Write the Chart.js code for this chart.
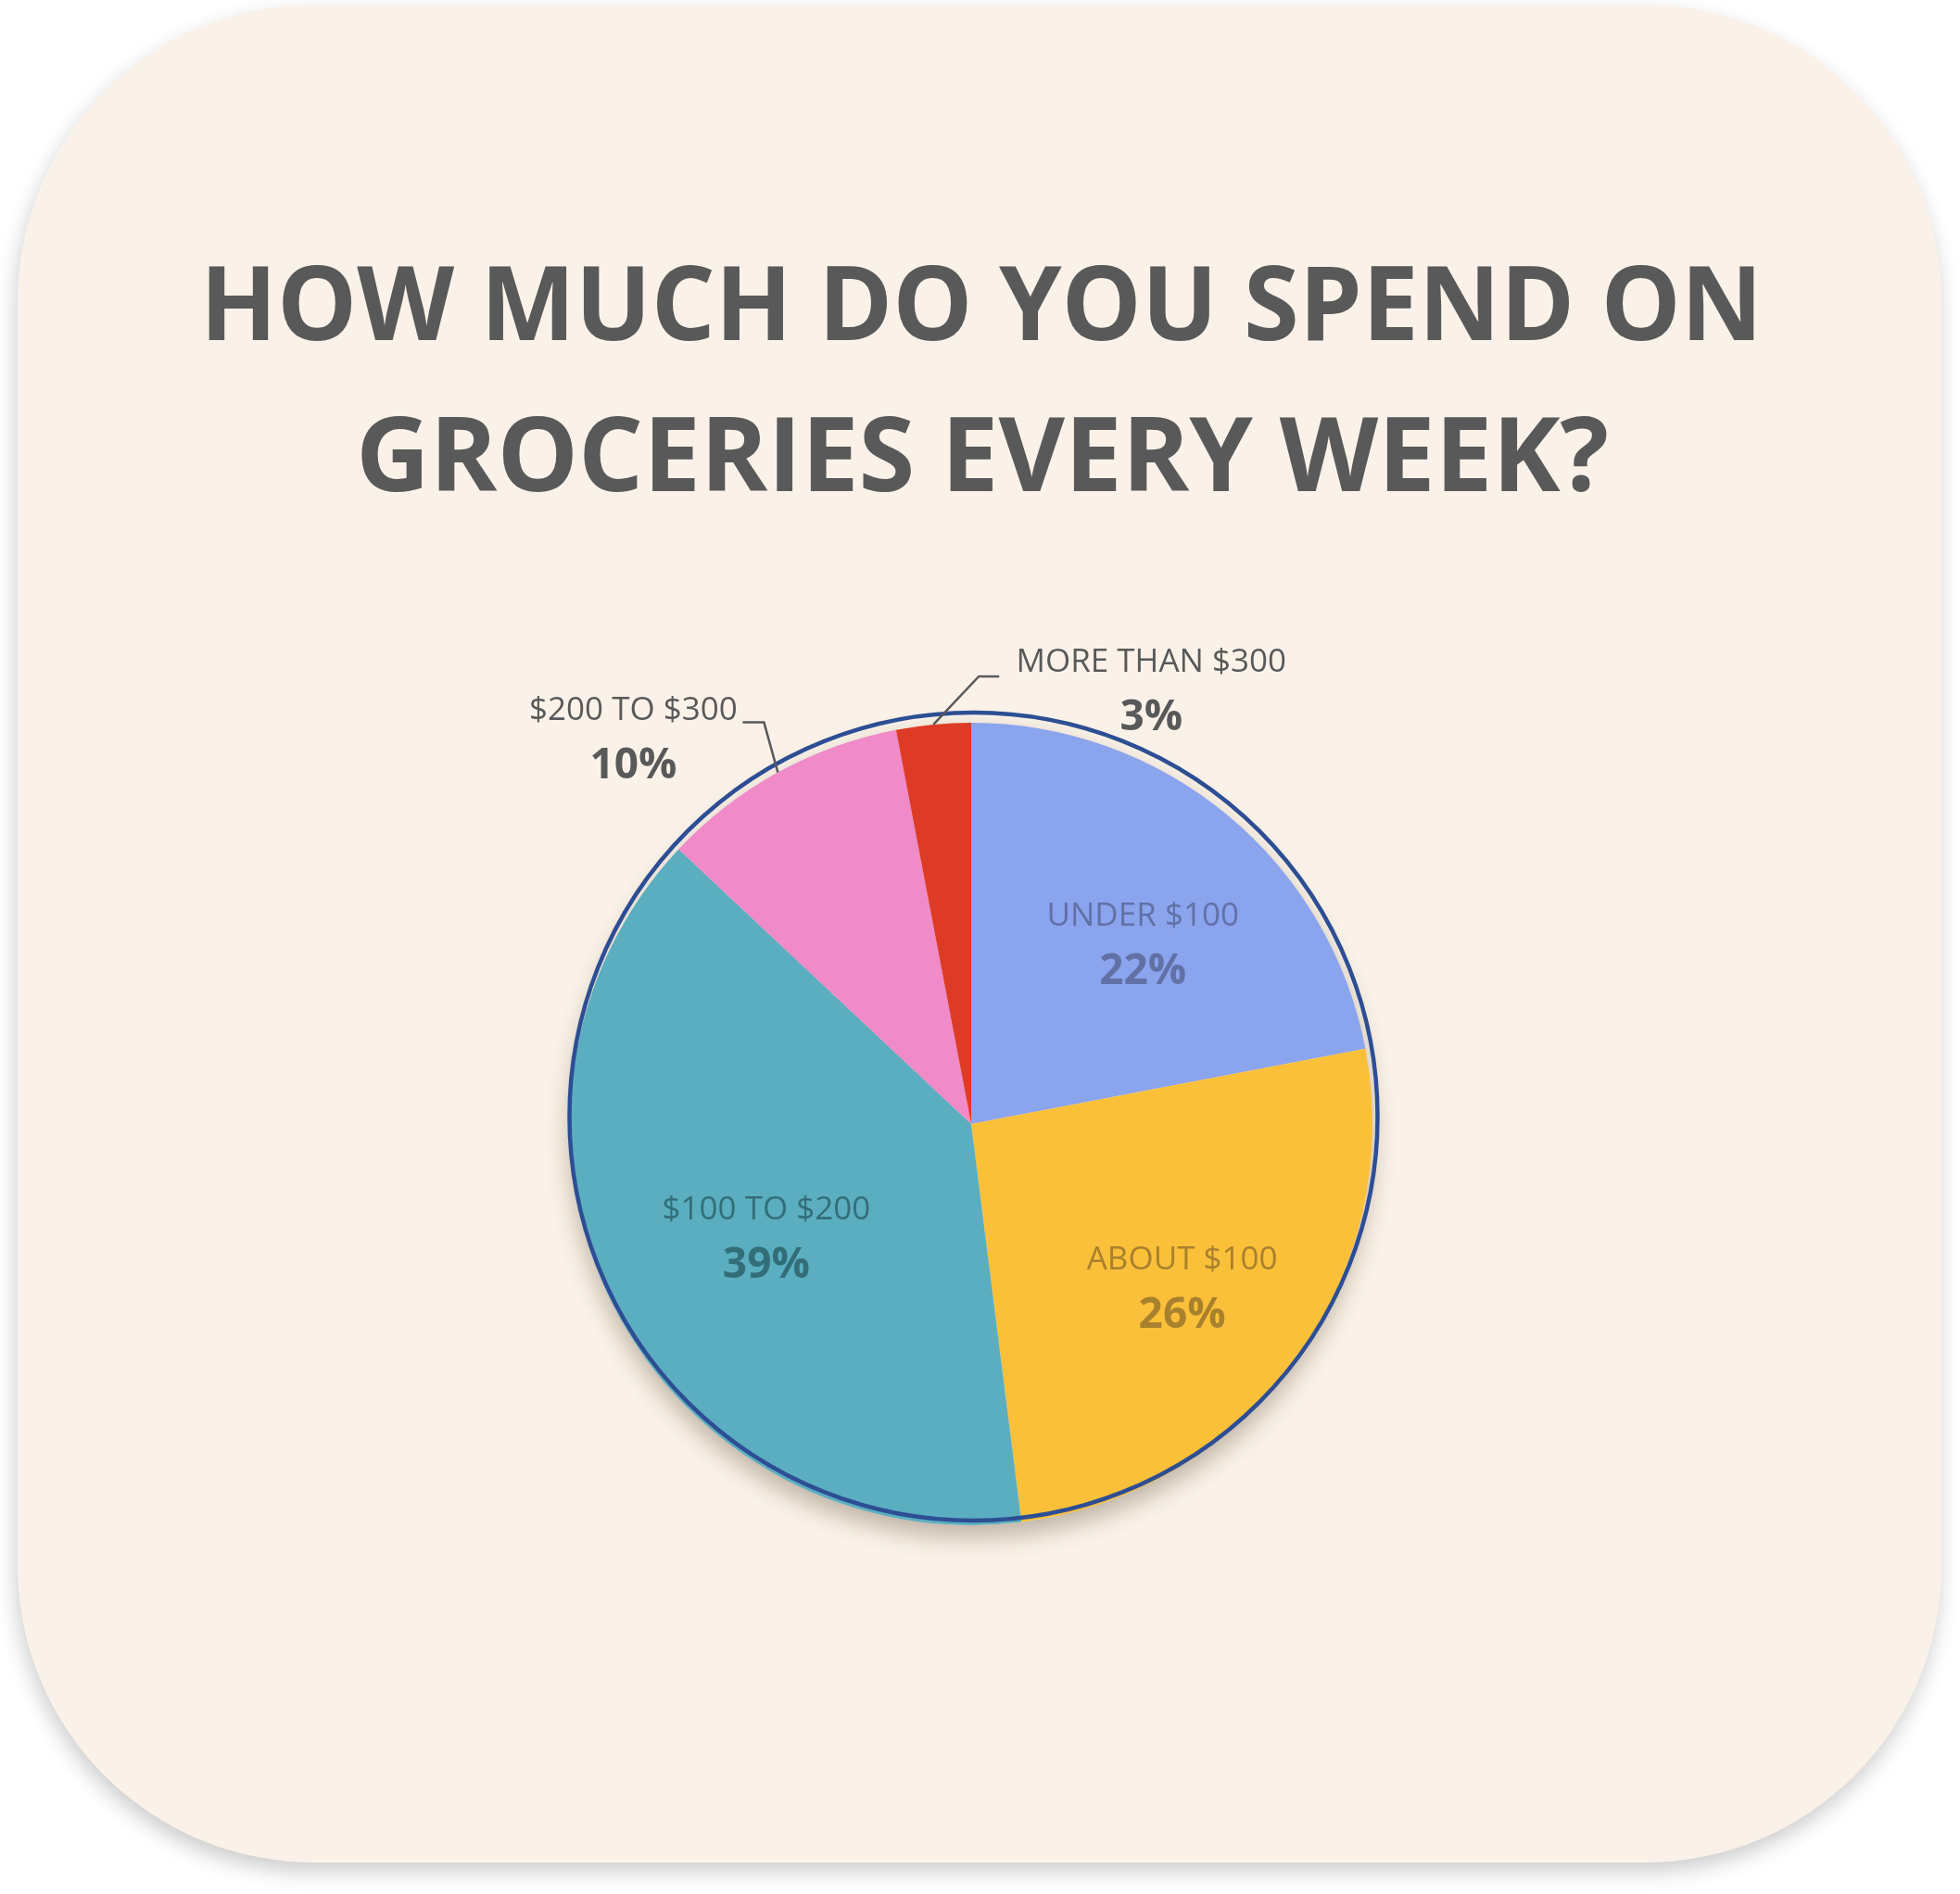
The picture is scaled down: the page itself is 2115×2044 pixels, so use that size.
<!DOCTYPE html>
<html><head><meta charset="utf-8">
<script src="https://cdn.jsdelivr.net/npm/chart.js@4"></script>
<style>html,body{margin:0;padding:0;background:#fff;overflow:hidden}</style>
</head><body>
<canvas id="c" width="2115" height="2044"></canvas>
<script>
// ---- data ----
const titleLines = ['HOW MUCH DO YOU SPEND ON', 'GROCERIES EVERY WEEK?'];
const categories = ['UNDER $100', 'ABOUT $100', '$100 TO $200', '$200 TO $300', 'MORE THAN $300'];
const shares = [22, 26, 39, 10, 3];
const percentLabels = ['22%', '26%', '39%', '10%', '3%'];

// ---- style ----
const sliceColors = ['#8AA4EE', '#FBC03A', '#5BAEC0', '#F08AC9', '#DE3B26'];
const insideTextColors = ['#6171A6', '#A8812E', '#336E78', null, null];
const insideRadius = [0.626, 0.66, 0.58, null, null];
const insideAngleShift = [3.5, 1.2, -1.3, null, null]; // degrees
const outsideLabels = {
  3: { elbow: [-15, -54], run: -23, text: [-118, -17] },
  4: { elbow: [49, -52], run: 22, text: [164, -19] }
};
const TEXT_NUDGE = 4;
const GREY = '#595959';
const FONT = '"Open Sans", "Noto Sans", sans-serif';

function roundRect(ctx, x, y, w, h, r) {
  ctx.beginPath();
  ctx.moveTo(x + r, y);
  ctx.lineTo(x + w - r, y);
  ctx.arcTo(x + w, y, x + w, y + r, r);
  ctx.lineTo(x + w, y + h - r);
  ctx.arcTo(x + w, y + h, x + w - r, y + h, r);
  ctx.lineTo(x + r, y + h);
  ctx.arcTo(x, y + h, x, y + h - r, r);
  ctx.lineTo(x, y + r);
  ctx.arcTo(x, y, x + r, y, r);
  ctx.closePath();
}

const cardPlugin = {
  id: 'card',
  beforeDraw(chart) {
    const ctx = chart.ctx;
    ctx.save();
    ctx.fillStyle = '#ffffff';
    ctx.fillRect(0, 0, chart.width, chart.height);
    ctx.shadowColor = 'rgba(0,0,0,0.20)';
    ctx.shadowBlur = 22;
    ctx.shadowOffsetX = -2;
    ctx.shadowOffsetY = 10;
    ctx.fillStyle = '#FAF2E8';
    roundRect(ctx, 19, 5, 2076, 2005, 320);
    ctx.fill();
    ctx.restore();

    // title
    ctx.save();
    ctx.fillStyle = GREY;
    ctx.textAlign = 'center';
    ctx.textBaseline = 'alphabetic';
    ctx.font = 'bold 112px ' + FONT;
    ctx.fillText(titleLines[0], 1059, 367, 1686);
    ctx.fillText(titleLines[1], 1060, 530, 1352);
    ctx.restore();
  },
  beforeDatasetsDraw(chart) {
    const arc = chart.getDatasetMeta(0).data[0];
    if (!arc) return;
    const ctx = chart.ctx;
    ctx.save();
    ctx.shadowColor = 'rgba(60,40,20,0.32)';
    ctx.shadowBlur = 26;
    ctx.shadowOffsetY = 12;
    ctx.fillStyle = '#E9E2D8';
    ctx.beginPath();
    ctx.arc(arc.x, arc.y, arc.outerRadius, 0, Math.PI * 2);
    ctx.fill();
    ctx.restore();
  },
  afterDatasetsDraw(chart) {
    const meta = chart.getDatasetMeta(0);
    const ctx = chart.ctx;
    const a0 = meta.data[0];
    // outer ring
    ctx.save();
    ctx.strokeStyle = '#2D4E94';
    ctx.lineWidth = 4.5;
    ctx.beginPath();
    ctx.arc(a0.x + 2.5, a0.y - 8, a0.outerRadius + 3, 0, Math.PI * 2);
    ctx.stroke();
    ctx.restore();

    meta.data.forEach((arc, i) => {
      const mid = (arc.startAngle + arc.endAngle) / 2;
      const R = arc.outerRadius;
      ctx.save();
      ctx.textAlign = 'center';
      ctx.textBaseline = 'middle';
      if (insideRadius[i] != null) {
        const ang = mid + insideAngleShift[i] * Math.PI / 180;
        const cx = arc.x + Math.cos(ang) * R * insideRadius[i];
        const cy = arc.y + Math.sin(ang) * R * insideRadius[i] + TEXT_NUDGE;
        ctx.fillStyle = insideTextColors[i];
        ctx.font = '35px ' + FONT;
        ctx.fillText(categories[i], cx, cy - 30);
        ctx.font = 'bold 46px ' + FONT;
        ctx.fillText(percentLabels[i], cx, cy + 30);
      } else if (outsideLabels[i]) {
        const o = outsideLabels[i];
        const ex = arc.x + Math.cos(mid) * R;
        const ey = arc.y + Math.sin(mid) * R;
        const bx = ex + o.elbow[0], by = ey + o.elbow[1];
        const fx = bx + o.run, fy = by;
        ctx.strokeStyle = GREY;
        ctx.lineWidth = 2.5;
        ctx.beginPath();
        ctx.moveTo(ex, ey);
        ctx.lineTo(bx, by);
        ctx.lineTo(fx, fy);
        ctx.stroke();
        const tx = fx + o.text[0], ty = fy + o.text[1] + TEXT_NUDGE;
        ctx.fillStyle = GREY;
        ctx.font = '35px ' + FONT;
        ctx.fillText(categories[i], tx, ty);
        ctx.font = 'bold 46px ' + FONT;
        ctx.fillText(percentLabels[i], tx, ty + 60);
      }
      ctx.restore();
    });
  }
};

new Chart(document.getElementById('c'), {
  type: 'pie',
  data: {
    labels: categories,
    datasets: [{
      data: shares,
      backgroundColor: sliceColors,
      borderWidth: 0,
      hoverOffset: 0
    }]
  },
  options: {
    responsive: false,
    devicePixelRatio: 1,
    animation: false,
    layout: { padding: { left: 615, right: 634, top: 780, bottom: 398 } },
    plugins: {
      legend: { display: false },
      title: { display: false },
      tooltip: { enabled: false }
    },
    events: []
  },
  plugins: [cardPlugin]
});
</script>
</body></html>
